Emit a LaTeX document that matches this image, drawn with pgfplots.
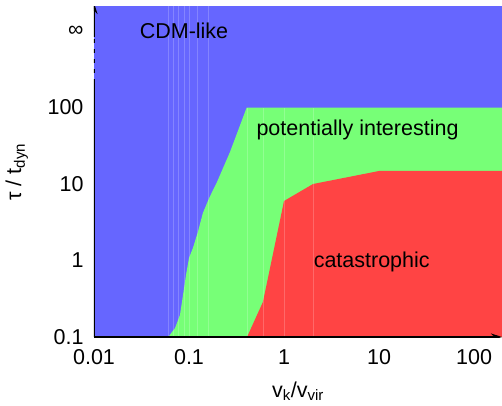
\documentclass[border=0pt]{standalone}
\usepackage{fontspec}
\setmainfont{Liberation Sans}
\usepackage{pgfplots}
\pgfplotsset{compat=1.18}
\usetikzlibrary{arrows.meta}

\definecolor{cdmblue}{RGB}{102,102,255}
\definecolor{intgreen}{RGB}{119,255,119}
\definecolor{catred}{RGB}{255,68,68}

\begin{document}
\begin{tikzpicture}
\begin{axis}[
    name=ax,
    scale only axis,
    width=408pt, height=330pt,
    xmode=log, ymode=log,
    xmin=0.01, xmax=197,
    ymin=0.1, ymax=2060,
    axis lines=left,
    axis line style={draw=none},
    major tick length=0pt,
    minor tick num=0,
    tick style={draw=none},
    xtick={0.01,0.1,1,10,100},
    xticklabels={0.01,0.1,1,10,100},
    ytick={0.1,1,10,100,1000},
    yticklabels={0.1,1,10,100,∞},
    font=\fontsize{21.5}{25}\selectfont,
    xticklabel style={yshift=-9pt},
    yticklabel style={xshift=-7pt},
    xlabel={v\textsubscript{k}/v\textsubscript{vir}},
    xlabel style={at={(axis description cs:0.5,0)}, anchor=base, yshift=-60pt},
    ylabel={τ / t\textsubscript{dyn}},
    ylabel style={at={(axis description cs:-0.1789,0.5)}, anchor=base},
    clip=true,
    seam/.style={draw=white, opacity=0.2, line width=0.5pt, forget plot},
]
% CDM-like background
\addplot[fill=cdmblue, draw=none] coordinates {
    (0.01,0.1) (300,0.1) (300,3000) (0.01,3000)
} -- cycle;
% potentially interesting
\addplot[fill=intgreen, draw=none] coordinates {
    (0.0605,0.1) (0.0713,0.131) (0.0803,0.194) (0.0865,0.354)
    (0.093,0.646) (0.1,1.08) (0.11,1.46) (0.124,2.36) (0.14,4.18)
    (0.163,6.56) (0.197,10.6) (0.27,26.2) (0.405,100)
    (300,100) (300,0.1)
} -- cycle;
% catastrophic
\addplot[fill=catred, draw=none] coordinates {
    (0.408,0.1) (0.60,0.287) (1.0,6.0) (2.02,10) (10,14.8)
    (300,14.8) (300,0.1)
} -- cycle;
% faint seams of the original strips
\pgfplotsinvokeforeach{0.0601,0.0687,0.0775,0.0897,0.1,0.1213,0.1595}{
  \addplot[seam] coordinates {(#1,0.1) (#1,3000)};
}
\pgfplotsinvokeforeach{0.408,0.601,1.0,2.02}{
  \addplot[seam] coordinates {(#1,0.1) (#1,100)};
}

\node at (axis cs:0.0886,1000) {CDM-like};
\node at (axis cs:5.94,50.8) {potentially interesting};
\node at (axis cs:8.38,0.955) {catastrophic};

% axes
\draw[line width=1.6pt, -{Stealth[length=11pt,width=7pt]}]
    (rel axis cs:0,0) -- (rel axis cs:1,0);
\draw[line width=1.6pt] (axis cs:0.01,0.1) -- (axis cs:0.01,209);
\draw[line width=1.6pt, dash pattern=on 4pt off 6pt]
    (axis cs:0.01,209) -- (axis cs:0.01,830);
\draw[line width=1.6pt, -{Stealth[length=11pt,width=7pt]}]
    (axis cs:0.01,830) -- ([yshift=4pt]rel axis cs:0,1);
\end{axis}
\pgfresetboundingbox
\path[use as bounding box] ([xshift=-94pt,yshift=-68pt]ax.south west)
    rectangle ([yshift=7pt]ax.north east);
\end{tikzpicture}
\end{document}
